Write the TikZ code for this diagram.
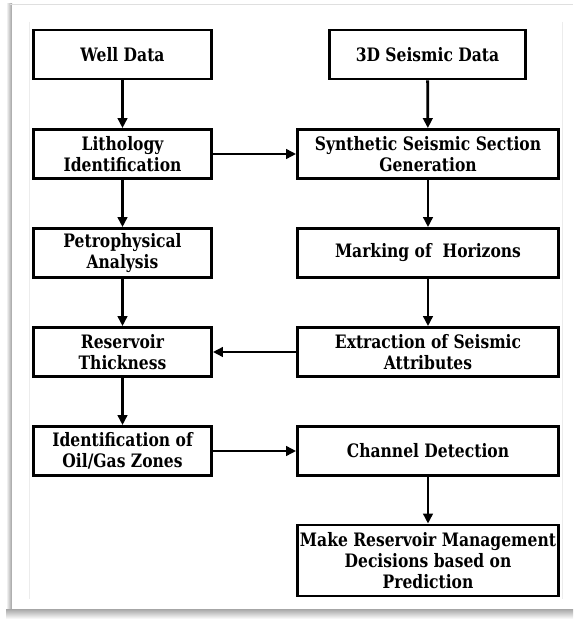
\documentclass[tikz,border=0pt]{standalone}
\usepackage{fontspec}
\setmainfont{DejaVu Serif}[FakeStretch=0.84]
\usetikzlibrary{arrows.meta,positioning}
\begin{document}
\begin{tikzpicture}[x=1pt,y=1pt,
  box/.style={draw=black, line width=2.8pt, fill=white, align=center,
    font=\fontsize{18.5}{21}\selectfont\bfseries, inner xsep=1.5pt, inner ysep=2pt},
  lbox/.style={box, minimum width=178, minimum height=49},
  rbox/.style={box, minimum width=261, minimum height=49},
  conn/.style={line width=2.8pt, -{Triangle[length=10pt,width=9.5pt]}}
]
\useasboundingbox (0,0) rectangle (573,-620);
% card with shadow
\fill[white] (0,0) rectangle (573,-620);
\shade[left color=white, right color=gray!75] (6,-4) rectangle (12,-614);
\shade[top color=gray!70, bottom color=white] (6,-609) rectangle (573,-619);
\fill[white] (12,-5) rectangle (573,-609);
\draw[gray!25, line width=1pt] (10,-4.5) -- (573,-4.5);
\draw[gray!15, line width=0.8pt] (29,-22) -- (29,-599);
\draw[gray!15, line width=0.8pt] (562,-22) -- (562,-599);

% left column
\node[lbox] (well) at (122.5,-54.5) {Well Data};
\node[lbox] (lith) at (122.5,-154) {Lithology\\Identification};
\node[lbox] (petro) at (122.5,-253) {Petrophysical\\Analysis};
\node[lbox] (resv) at (122.5,-352) {Reservoir\\Thickness};
\node[lbox] (ident) at (122.5,-451) {Identification of\\Oil/Gas Zones};
% right column
\node[box, minimum width=196, minimum height=49] (seis) at (427.5,-54.5) {3D Seismic Data};
\node[rbox] (synth) at (428,-154) {Synthetic Seismic Section\\Generation};
\node[rbox] (mark) at (428,-253) {Marking of~ Horizons};
\node[rbox] (extr) at (428,-352) {Extraction of Seismic\\Attributes};
\node[rbox] (chan) at (428,-451) {Channel Detection};
\node[rbox, minimum height=71] (make) at (428,-560.5) {Make Reservoir Management\\Decisions based on\\Prediction};

% connectors
\draw[conn] (well) -- (lith);
\draw[conn] (lith) -- (petro);
\draw[conn] (petro) -- (resv);
\draw[conn] (resv) -- (ident);
\draw[conn] (seis) -- (synth);
\draw[conn] (synth) -- (mark);
\draw[conn] (mark) -- (extr);
\draw[conn] (chan) -- (make);
\draw[conn] (lith) -- (synth);
\draw[conn] (extr) -- (resv);
\draw[conn] (ident) -- (chan);
\end{tikzpicture}
\end{document}
